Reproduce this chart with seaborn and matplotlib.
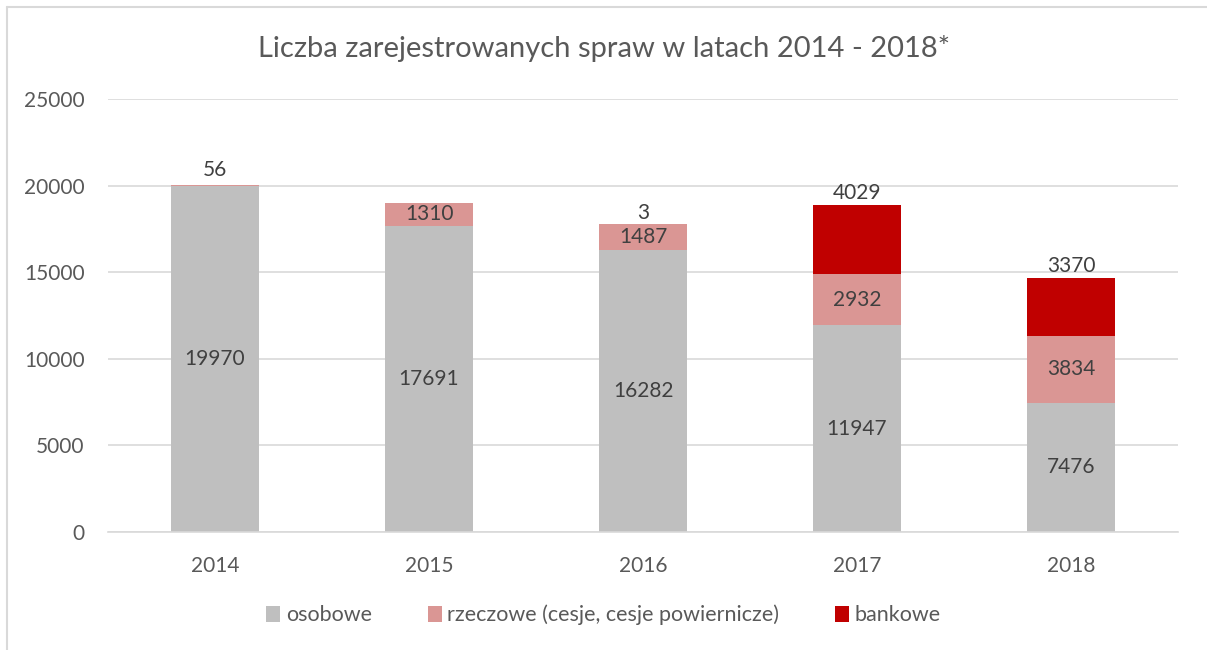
import matplotlib
matplotlib.use("Agg")
import matplotlib.pyplot as plt
from matplotlib.lines import Line2D
from matplotlib.patches import Patch
import pandas as pd
import seaborn as sns

years = ["2014", "2015", "2016", "2017", "2018"]
osobowe = [19970, 17691, 16282, 11947, 7476]
rzeczowe = [56, 1310, 1487, 2932, 3834]
bankowe = [0, 0, 3, 4029, 3370]

series_names = ["osobowe", "rzeczowe (cesje, cesje powiernicze)", "bankowe"]
colors = ["#BFBFBF", "#DA9694", "#C00000"]
text_color = "#595959"

sns.set_theme(style="white")
plt.rcParams["font.family"] = ["Lato", "DejaVu Sans"]

df = pd.DataFrame({"rok": years, "osobowe": osobowe,
                   "rzeczowe": rzeczowe, "bankowe": bankowe})
df["b2"] = df["osobowe"]
df["b3"] = df["osobowe"] + df["rzeczowe"]

fig = plt.figure(figsize=(12.07, 6.5), dpi=100)
ax = fig.add_axes([0.0895, 0.1815, 0.8865, 0.6662])

for col, bot, c in zip(["osobowe", "rzeczowe", "bankowe"],
                       [None, "b2", "b3"], colors):
    kw = {} if bot is None else {"bottom": df[bot]}
    sns.barplot(data=df, x="rok", y=col, color=c, width=0.41,
                saturation=1, ax=ax, linewidth=0, **kw)

ax.set_ylim(0, 25000)
ax.set_xlim(-0.5, 4.5)
ax.set_yticks(range(0, 25001, 5000))
ax.yaxis.grid(True, color="#D9D9D9", linewidth=1.2)
ax.set_axisbelow(True)
for s in ["top", "right", "left"]:
    ax.spines[s].set_visible(False)
ax.spines["bottom"].set_color("#D9D9D9")
ax.spines["bottom"].set_linewidth(1.2)
ax.set_xlabel("")
ax.set_ylabel("")
ax.tick_params(axis="both", length=0, labelsize=15, labelcolor=text_color)
ax.tick_params(axis="y", pad=17)
ax.tick_params(axis="x", pad=17)

fs = 15
lab_color = "#404040"
for i in range(len(years)):
    ax.text(i, osobowe[i] / 2, str(osobowe[i]), ha="center", va="center",
            fontsize=fs, color=lab_color)
    top_r = osobowe[i] + rzeczowe[i]
    if rzeczowe[i] > 500:
        ax.text(i, osobowe[i] + rzeczowe[i] / 2, str(rzeczowe[i]),
                ha="center", va="center", fontsize=fs, color=lab_color)
    else:
        ax.annotate(str(rzeczowe[i]), (i, top_r), xytext=(0, 4),
                    textcoords="offset points", ha="center", va="bottom",
                    fontsize=fs, color=lab_color)
    if bankowe[i] > 0:
        ax.annotate(str(bankowe[i]), (i, top_r + bankowe[i]), xytext=(0, 1),
                    textcoords="offset points", ha="center", va="bottom",
                    fontsize=fs, color=lab_color)

fig.text(0.5, 0.925, "Liczba zarejestrowanych spraw w latach 2014 - 2018*",
         ha="center", va="center", fontsize=21, color=text_color)

handles = [Patch(facecolor=c, edgecolor="none") for c in colors]
fig.legend(handles, series_names, loc="center", bbox_to_anchor=(0.5, 0.054),
           ncol=3, frameon=False, fontsize=15.5, labelcolor=text_color,
           handlelength=0.65, handleheight=0.75, handletextpad=0.25,
           columnspacing=2.6)

# chart frame (top and left edges visible)
fig.add_artist(Line2D([0.006, 1.0], [0.990, 0.990], transform=fig.transFigure,
                      color="#D9D9D9", linewidth=1.5))
fig.add_artist(Line2D([0.006, 0.006], [0.0, 0.990], transform=fig.transFigure,
                      color="#D9D9D9", linewidth=1.5))

fig.savefig("out.png", dpi=100, facecolor="white")
